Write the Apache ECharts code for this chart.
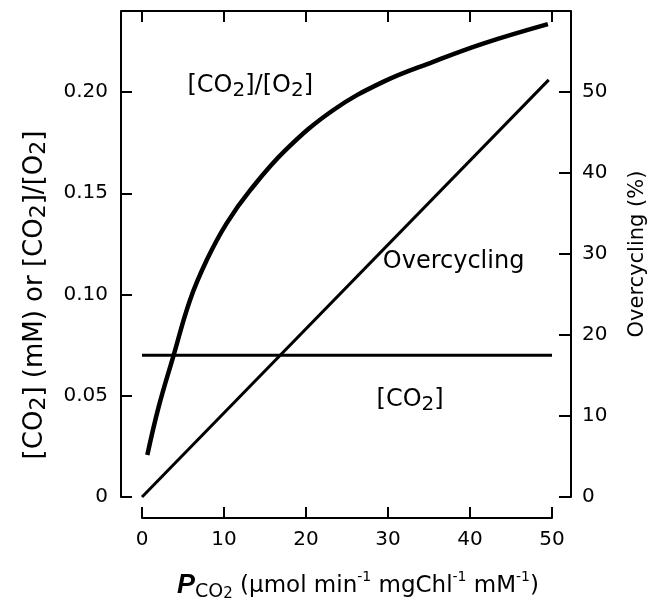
<!DOCTYPE html>
<html><head><meta charset="utf-8">
<script src="https://cdn.jsdelivr.net/npm/echarts@6/dist/echarts.min.js"></script>
<style>html,body{margin:0;padding:0;background:#fff}#c{width:665px;height:607px}</style>
</head><body><div id="c"></div>
<script>
// ---- data ----
const ratioX = [0.65, 2, 3.8, 5.85, 7.9, 10.3, 13.2, 17.5, 23.3, 29.4, 35.5, 41.6, 49.5];
const ratioY = [0.0207, 0.044, 0.0692, 0.0972, 0.117, 0.135, 0.1515, 0.1713, 0.191, 0.205, 0.2149, 0.2239, 0.2335];
const overX = [0, 49.6];
const overY = [0, 51.5];
const co2X = [0, 50];
const co2Y = [0.07, 0.07];
const leftTicks = ['0', '0.05', '0.10', '0.15', '0.20'];
const rightTicks = ['0', '10', '20', '30', '40', '50'];

const FONT = 'DejaVu Sans';
const zip = (a, b) => a.map((v, i) => [v, b[i]]);

const G = {left: 142, right: 113, top: 11, bottom: 110};
const W = 665, H = 607;
const yOff = 21, rOff = 19, xOff = 21;

const axisLine = () => ({show: true, onZero: false, lineStyle: {color: '#000', width: 2}});
const tick = (len) => ({show: true, inside: true, length: len, lineStyle: {color: '#000', width: 2}});

const sub = (fs, lh) => ({fontSize: fs, lineHeight: lh, verticalAlign: 'bottom', fontFamily: FONT, color: '#000'});
const sup = (fs, lh) => ({fontSize: fs, lineHeight: lh, verticalAlign: 'top', fontFamily: FONT, color: '#000'});
const norm = (fs, lh) => ({fontSize: fs, lineHeight: lh, verticalAlign: 'middle', fontFamily: FONT, color: '#000'});

const chart = echarts.init(document.getElementById('c'), null, {renderer: 'canvas'});
const option = {
  animation: false,
  backgroundColor: '#fff',
  textStyle: {fontFamily: FONT, color: '#000'},
  grid: {left: G.left, right: G.right, top: G.top, bottom: G.bottom, containLabel: false, outerBoundsMode: 'none'},
  xAxis: [
    {
      type: 'value', position: 'bottom', offset: xOff, min: 0, max: 50, interval: 10,
      axisLine: axisLine(), axisTick: tick(11), splitLine: {show: false},
      axisLabel: {fontSize: 20, color: '#000', margin: 12, fontFamily: FONT},
      name: '{pb|P}{s1|CO}{s2|2}{n| (μmol min}{sp|-1}{n| mgChl}{sp|-1}{n| mM}{sp|-1}{n|)}',
      nameLocation: 'middle', nameGap: 52, nameMoveOverlap: false,
      nameTextStyle: {
        padding: [0, 0, 0, 22],
        rich: {
          pb: {fontSize: 27, lineHeight: 32, verticalAlign: 'middle', fontWeight: 'bold', fontStyle: 'italic', fontFamily: 'Liberation Sans', color: '#000'},
          s1: sub(19, 22), s2: sub(15, 12),
          n: norm(23, 32), sp: sup(14, 22)
        }
      }
    },
    {
      type: 'value', position: 'top', min: 0, max: 50, interval: 10,
      axisLine: axisLine(), axisTick: tick(11), splitLine: {show: false},
      axisLabel: {show: false}
    }
  ],
  yAxis: [
    {
      type: 'value', position: 'left', offset: yOff, min: 0, max: 0.24, interval: 0.05,
      axisLine: axisLine(), axisTick: tick(11), splitLine: {show: false},
      axisLabel: {fontSize: 20, color: '#000', margin: 13, fontFamily: FONT, showMaxLabel: false,
        formatter: (v) => { const i = Math.round(v / 0.05); return leftTicks[i] !== undefined && Math.abs(v - i * 0.05) < 1e-6 ? leftTicks[i] : ''; }},
      name: '{n|[CO}{s|2}{n|] (mM) or [CO}{s|2}{n|]/[O}{s|2}{n|]}',
      nameLocation: 'middle', nameRotate: 90, nameGap: 71, nameMoveOverlap: false,
      nameTextStyle: {padding: [0, 82, 0, 0], rich: {n: norm(26, 30), s: sub(22, 20)}}
    },
    {
      type: 'value', position: 'right', offset: rOff, min: 0, max: 60, interval: 10,
      axisLine: axisLine(), axisTick: tick(12), splitLine: {show: false},
      axisLabel: {fontSize: 20, color: '#000', margin: 11, fontFamily: FONT, showMaxLabel: false,
        formatter: (v) => { const i = Math.round(v / 10); return rightTicks[i] !== undefined ? rightTicks[i] : ''; }},
      name: 'Overcycling (%)',
      nameLocation: 'middle', nameRotate: 90, nameGap: 56, nameMoveOverlap: false,
      nameTextStyle: {fontSize: 21, color: '#000', fontFamily: FONT}
    }
  ],
  series: [
    {type: 'line', name: 'ratio', xAxisIndex: 0, yAxisIndex: 0, data: zip(ratioX, ratioY), smooth: 0.4,
      showSymbol: false, symbol: 'none', lineStyle: {color: '#000', width: 4.5, cap: 'butt'}},
    {type: 'line', name: 'over', xAxisIndex: 0, yAxisIndex: 1, data: zip(overX, overY),
      showSymbol: false, symbol: 'none', lineStyle: {color: '#000', width: 3}},
    {type: 'line', name: 'co2', xAxisIndex: 0, yAxisIndex: 0, data: zip(co2X, co2Y),
      showSymbol: false, symbol: 'none', lineStyle: {color: '#000', width: 3}}
  ]
};
chart.setOption(option);

// annotations placed in data coordinates
const annots = [
  {text: '{n|[CO}{s|2}{n|]/[O}{s|2}{n|]}', x: 13.2, y: 0.203},
  {text: '{n|Overcycling}', x: 38.0, y: 0.116},
  {text: '{n|[CO}{s|2}{n|]}', x: 32.7, y: 0.048}
];
const graphics = annots.map(a => {
  const p = chart.convertToPixel({xAxisIndex: 0, yAxisIndex: 0}, [a.x, a.y]);
  return {type: 'text', x: p[0], y: p[1], style: {text: a.text, align: 'center', verticalAlign: 'middle',
    rich: {n: norm(24, 30), s: sub(20, 20)}}};
});
// top frame line extending over the offset axes
graphics.push({type: 'line', shape: {x1: G.left - yOff, y1: G.top, x2: W - G.right + rOff, y2: G.top},
  style: {stroke: '#000', lineWidth: 2}});
chart.setOption({graphic: graphics});
</script></body></html>
